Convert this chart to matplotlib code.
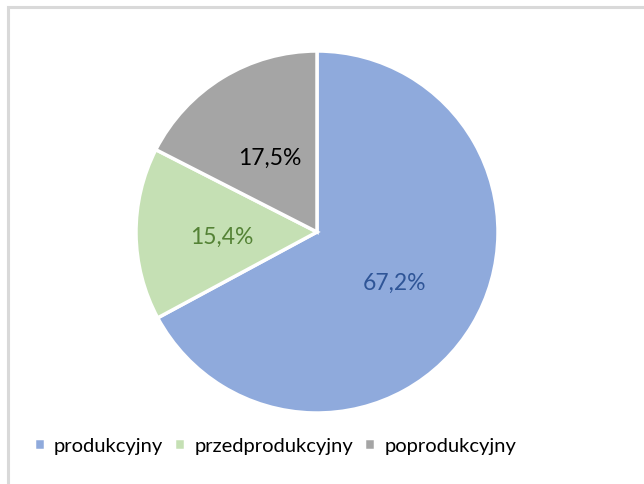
import matplotlib.pyplot as plt
from matplotlib.patches import Rectangle

# dane
kategorie = ['produkcyjny', 'przedprodukcyjny', 'poprodukcyjny']
udzialy = [67.2, 15.4, 17.5]
etykiety = ['67,2%', '15,4%', '17,5%']
kolory = ['#8FAADC', '#C5E0B4', '#A5A5A5']
kolory_tekstu = ['#2F5597', '#548235', '#000000']

plt.rcParams['font.family'] = ['Lato', 'DejaVu Sans']

fig = plt.figure(figsize=(6.44, 4.85), dpi=100)
W, H = 644, 485

# ramka wykresu (wychodzi poza prawą i dolną krawędź)
fig.patches.append(Rectangle((7.5 / W, -0.1), 1.2, (H - 7.5) / H + 0.1,
                             transform=fig.transFigure, fill=False,
                             edgecolor='#D9D9D9', linewidth=2.2))

# koło: środek (317, 233), promień 181 px
cx, cy, r = 317, 233, 181
ax = fig.add_axes([(cx - r) / W, (H - cy - r) / H, 2 * r / W, 2 * r / H])
wedges, _ = ax.pie(udzialy, colors=kolory, startangle=90, counterclock=False,
                   wedgeprops=dict(edgecolor='white', linewidth=2.5))
ax.set_aspect('equal')
ax.set_xlim(-1, 1)
ax.set_ylim(-1, 1)

# pozycje etykiet (px)
poz = [(395, 283), (222, 237), (270, 158)]
for (x, y), t, c in zip(poz, etykiety, kolory_tekstu):
    fig.text(x / W, 1 - y / H, t, color=c, fontsize=16.5, ha='center', va='center')

# legenda
leg = fig.legend(wedges, kategorie, loc='center', bbox_to_anchor=(275 / W, 1 - 447 / H),
                 ncol=3, frameon=False, fontsize=14.5, handlelength=0.55, handleheight=0.55,
                 handletextpad=0.45, columnspacing=0.55)

fig.savefig('out.png', dpi=100)
